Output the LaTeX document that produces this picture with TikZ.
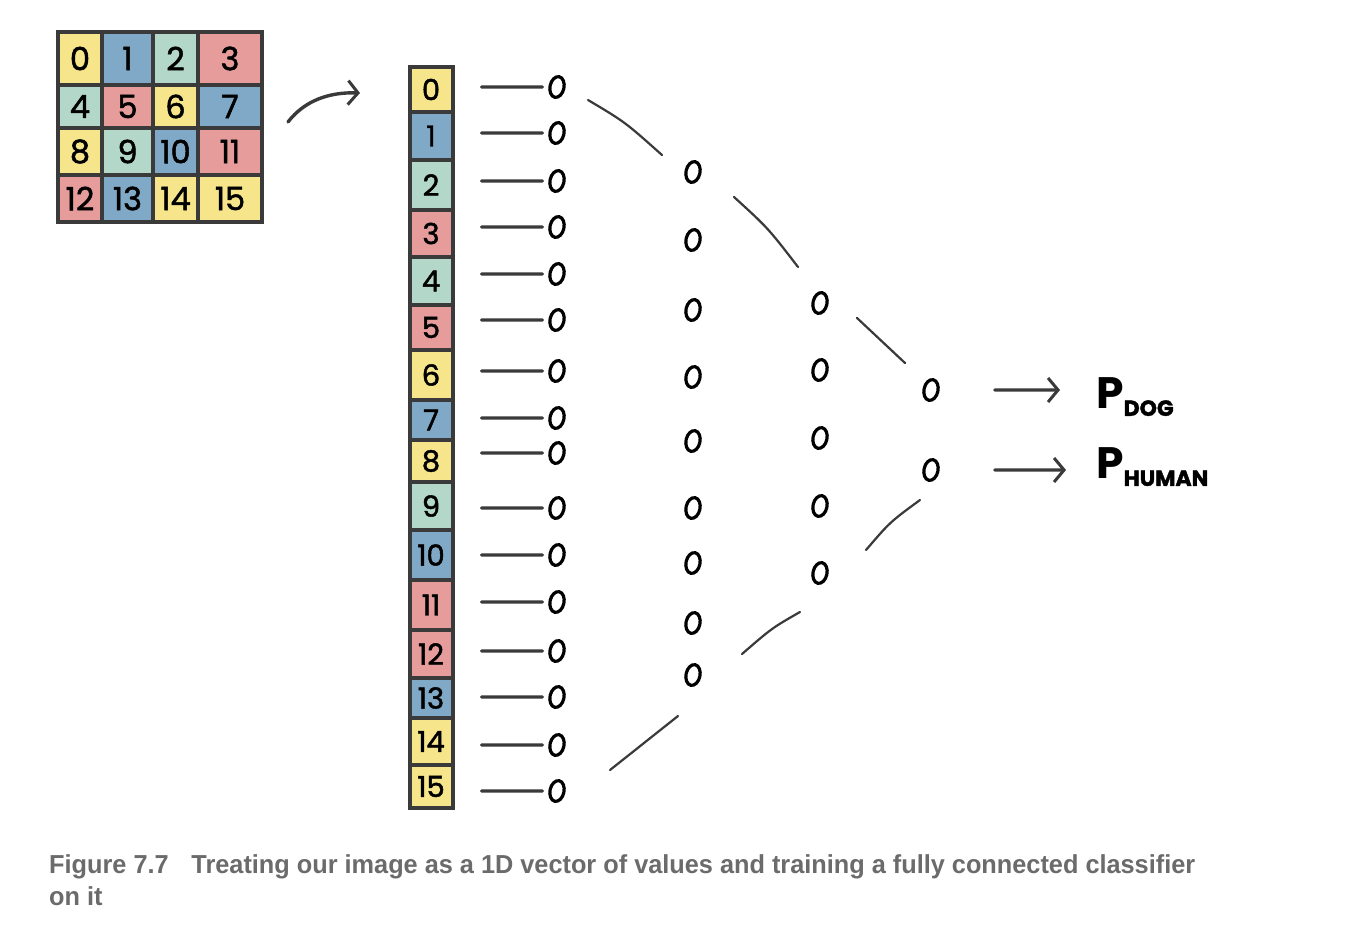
\documentclass[tikz,border=0pt]{standalone}
\usepackage{fontspec}
\usepackage{graphicx}
\usetikzlibrary{arrows.meta,shapes.geometric}
\newfontfamily\hand{Poppins}
\newfontfamily\handb[FakeBold=1.6]{Poppins}
\newfontfamily\capfont{Liberation Sans}
\definecolor{yel}{HTML}{F6E58A}
\definecolor{blu}{HTML}{7FA9C6}
\definecolor{grn}{HTML}{B3D8CA}
\definecolor{rdd}{HTML}{E69C9B}
\definecolor{ink}{HTML}{3A3A3A}
\definecolor{capgray}{HTML}{6B6B6B}
\newlength\capw
\newcommand\capfirst{Figure 7.7\hspace{0.9em}Treating our image as a 1D vector of values and training a fully connected classifier}
\tikzset{
  gcell/.style={draw=ink, line width=4.5pt, inner sep=0pt, font=\handb\fontsize{32}{32}\selectfont},
  vcell/.style={draw=ink, line width=4pt, inner sep=0pt, minimum width=43pt, font=\handb\fontsize{29}{29}\selectfont},
  neuron/.style={ellipse, draw=black, line width=3.2pt, minimum width=14pt, minimum height=21pt, inner sep=0pt, rotate=-12},
  conn/.style={draw=ink, line width=3.4pt, line cap=round},
  stroke/.style={draw=ink, line width=2.2pt, line cap=round},
  barb/.style={draw=ink, line width=3.4pt, line cap=round, -{Straight Barb[length=10pt, width=24pt, line width=3pt]}},
  plabel/.style={anchor=west, inner sep=0pt, font=\hand\bfseries\fontsize{44}{44}\selectfont},
  caption/.style={anchor=base west, inner sep=0pt, text=capgray, font=\capfont\bfseries\fontsize{26}{30}\selectfont}
}
\begin{document}
\settowidth\capw{\capfont\bfseries\fontsize{26}{30}\selectfont\capfirst}%
\pgfmathsetmacro\capscale{1146/\capw}%
\begin{tikzpicture}[x=1pt, y=-1pt]
\useasboundingbox (0,0) rectangle (1362,942);
\fill[white] (0,0) rectangle (1362,942);
% ---------- 4x4 grid ----------
\node[gcell, fill=yel, minimum width=44pt, minimum height=53pt] (g0)  at (80,58.5)   {0};
\node[gcell, fill=blu, minimum width=51pt, minimum height=53pt] (g1)  at (127.5,58.5) {1};
\node[gcell, fill=grn, minimum width=45pt, minimum height=53pt] (g2)  at (175.5,58.5) {2};
\node[gcell, fill=rdd, minimum width=64pt, minimum height=53pt] (g3)  at (230,58.5)  {3};
\node[gcell, fill=grn, minimum width=44pt, minimum height=43pt] (g4)  at (80,106.5)  {4};
\node[gcell, fill=rdd, minimum width=51pt, minimum height=43pt] (g5)  at (127.5,106.5) {5};
\node[gcell, fill=yel, minimum width=45pt, minimum height=43pt] (g6)  at (175.5,106.5) {6};
\node[gcell, fill=blu, minimum width=64pt, minimum height=43pt] (g7)  at (230,106.5) {7};
\node[gcell, fill=yel, minimum width=44pt, minimum height=47pt] (g8)  at (80,151.5)  {8};
\node[gcell, fill=grn, minimum width=51pt, minimum height=47pt] (g9)  at (127.5,151.5) {9};
\node[gcell, fill=blu, minimum width=45pt, minimum height=47pt] (g10) at (175.5,151.5) {10};
\node[gcell, fill=rdd, minimum width=64pt, minimum height=47pt] (g11) at (230,151.5) {11};
\node[gcell, fill=rdd, minimum width=44pt, minimum height=47pt] (g12) at (80,198.5)  {12};
\node[gcell, fill=blu, minimum width=51pt, minimum height=47pt] (g13) at (127.5,198.5) {13};
\node[gcell, fill=yel, minimum width=45pt, minimum height=47pt] (g14) at (175.5,198.5) {14};
\node[gcell, fill=yel, minimum width=64pt, minimum height=47pt] (g15) at (230,198.5) {15};
% arrow grid -> vector
\coordinate (ga) at (288,122);
\coordinate (gb) at (360,93);
\draw[barb] (ga) .. controls (305,100) and (330,92) .. (gb);
% ---------- vector ----------
\foreach \i/\cy/\h/\c in {0/89.5/45/yel, 1/136/48/blu, 2/185/50/grn, 3/233.5/47/rdd,
  4/281/48/grn, 5/327.5/45/rdd, 6/375/50/yel, 7/420/40/blu, 8/461/42/yel,
  9/506/48/grn, 10/555/50/blu, 11/605/50/rdd, 12/654/48/rdd, 13/698/40/blu,
  14/741.5/47/yel, 15/786.5/43/yel}
  \node[vcell, fill=\c, minimum height=\h pt] (v\i) at (431,\cy) {\i};
% ---------- layer 1 ----------
\foreach \i/\y in {0/87, 1/133, 2/181, 3/227, 4/274, 5/320, 6/371, 7/418, 8/453,
  9/508, 10/555, 11/602, 12/651, 13/697, 14/745, 15/791}
{
  \node[neuron] (a\i) at (557,\y) {};
  \draw[conn, shorten <=27pt, shorten >=6pt] (v\i.east |- a\i) -- (a\i);
}
% ---------- layer 2 ----------
\foreach \i/\y in {1/172, 2/240, 3/310, 4/377, 5/441, 6/508, 7/563, 8/623, 9/675}
  \node[neuron] (b\i) at (693,\y) {};
% ---------- layer 3 ----------
\foreach \i/\y in {1/303, 2/370, 3/438, 4/506, 5/573}
  \node[neuron] (c\i) at (820,\y) {};
% ---------- output layer ----------
\node[neuron] (o1) at (931,390) {};
\node[neuron] (o2) at (931,470) {};
% fan-in strokes
\coordinate (s1a) at (588,100); \coordinate (s1b) at (662,155);
\coordinate (s2a) at (734,197); \coordinate (s2b) at (798,267);
\coordinate (s3a) at (857,318); \coordinate (s3b) at (905,363);
\coordinate (s4a) at (610,770); \coordinate (s4b) at (678,716);
\coordinate (s5a) at (742,654); \coordinate (s5b) at (800,612);
\coordinate (s6a) at (866,550); \coordinate (s6b) at (920,500);
\draw[stroke] (s1a) .. controls (625,122) .. (s1b);
\draw[stroke] (s2a) .. controls (768,228) .. (s2b);
\draw[stroke] (s3a) -- (s3b);
\draw[stroke] (s4a) -- (s4b);
\draw[stroke] (s5a) .. controls (772,628) .. (s5b);
\draw[stroke] (s6a) .. controls (890,522) .. (s6b);
% labels
\node[plabel] (pdog) at (1096,397) {P\raisebox{-7pt}{\handb\fontsize{22}{22}\selectfont DOG}};
\node[plabel] (phum) at (1096,467) {P\raisebox{-7pt}{\handb\fontsize{22}{22}\selectfont HUMAN}};
\draw[barb, shorten <=55pt, shorten >=36pt] (o1) -- (o1 -| pdog.west);
\draw[barb, shorten <=55pt, shorten >=30pt] (o2) -- (o2 -| phum.west);
% caption
\node[caption] (cap1) at (49,873) {\scalebox{\capscale}[1]{\capfirst}};
\node[caption] (cap2) at (49,905) {\scalebox{\capscale}[1]{on it}};
\end{tikzpicture}
\end{document}
